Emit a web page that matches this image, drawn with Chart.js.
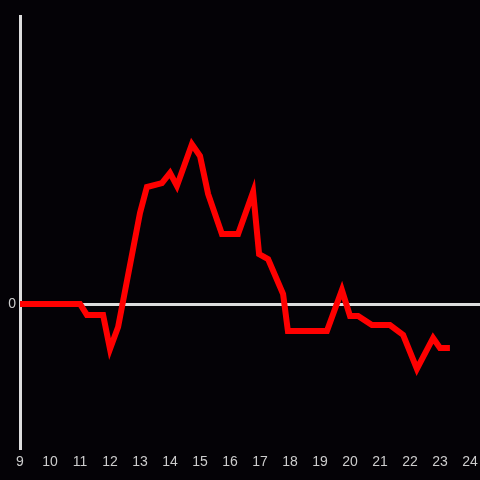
<!DOCTYPE html>
<html>
<head>
<meta charset="utf-8">
<script src="https://cdn.jsdelivr.net/npm/chart.js@4"></script>
<style>
  html, body { margin: 0; padding: 0; background: #040206; }
  #wrap { width: 480px; height: 480px; }
</style>
</head>
<body>
<div id="wrap"><canvas id="chart" width="480" height="480"></canvas></div>
<script>
// time of day (hours) and value
var hours = [9.0, 11.0, 11.23, 11.77, 12.0, 12.27, 13.0, 13.23, 13.73, 14.0, 14.23, 14.73, 15.0, 15.27,
  15.73, 16.27, 16.77, 16.97, 17.27, 17.77, 17.93, 19.23, 19.73, 20.0, 20.27, 20.73, 21.33, 21.77,
  22.23, 22.77, 23.0, 23.33];
var values = [0, 0, -0.076, -0.076, -0.313, -0.16, 0.632, 0.812, 0.84, 0.91, 0.82, 1.11, 1.028, 0.764,
  0.486, 0.486, 0.778, 0.347, 0.312, 0.069, -0.188, -0.188, 0.097, -0.083, -0.083, -0.146, -0.146, -0.215,
  -0.451, -0.236, -0.306, -0.306];
var xTicks = [9, 10, 11, 12, 13, 14, 15, 16, 17, 18, 19, 20, 21, 22, 23, 24];
var yTicks = [0];

var points = hours.map(function (h, i) { return { x: h, y: values[i] }; });

var ctx = document.getElementById('chart');
new Chart(ctx, {
  type: 'line',
  data: {
    datasets: [{
      data: points,
      borderColor: '#ff0000',
      borderWidth: 6,
      pointRadius: 0,
      tension: 0,
      fill: false
    }]
  },
  options: {
    responsive: false,
    animation: false,
    layout: { padding: { top: 16, right: 0, left: 0, bottom: 0 } },
    plugins: { legend: { display: false }, tooltip: { enabled: false } },
    scales: {
      x: {
        type: 'linear',
        min: 9,
        max: 24.333,
        afterBuildTicks: function (axis) {
          axis.ticks = xTicks.map(function (v) { return { value: v }; });
        },
        afterFit: function (axis) {
          axis.height = 32;
          axis.paddingRight = 0;
          axis.paddingLeft = 0;
        },
        grid: { display: false, drawTicks: false },
        border: { display: false },
        ticks: {
          color: '#cccccc',
          padding: 6,
          maxRotation: 0,
          autoSkip: false,
          font: { family: 'Liberation Sans', size: 14 }
        }
      },
      y: {
        min: -1,
        max: 2,
        afterBuildTicks: function (axis) {
          axis.ticks = yTicks.map(function (v) { return { value: v }; });
        },
        afterFit: function (axis) {
          axis.width = 20;
          axis.paddingTop = 0;
          axis.paddingBottom = 0;
        },
        grid: { color: '#dddddd', lineWidth: 3, drawTicks: false },
        border: { display: true, color: '#dddddd', width: 3 },
        ticks: {
          color: '#cccccc',
          padding: 4,
          font: { family: 'Liberation Sans', size: 14 }
        }
      }
    }
  }
});
</script>
</body>
</html>
